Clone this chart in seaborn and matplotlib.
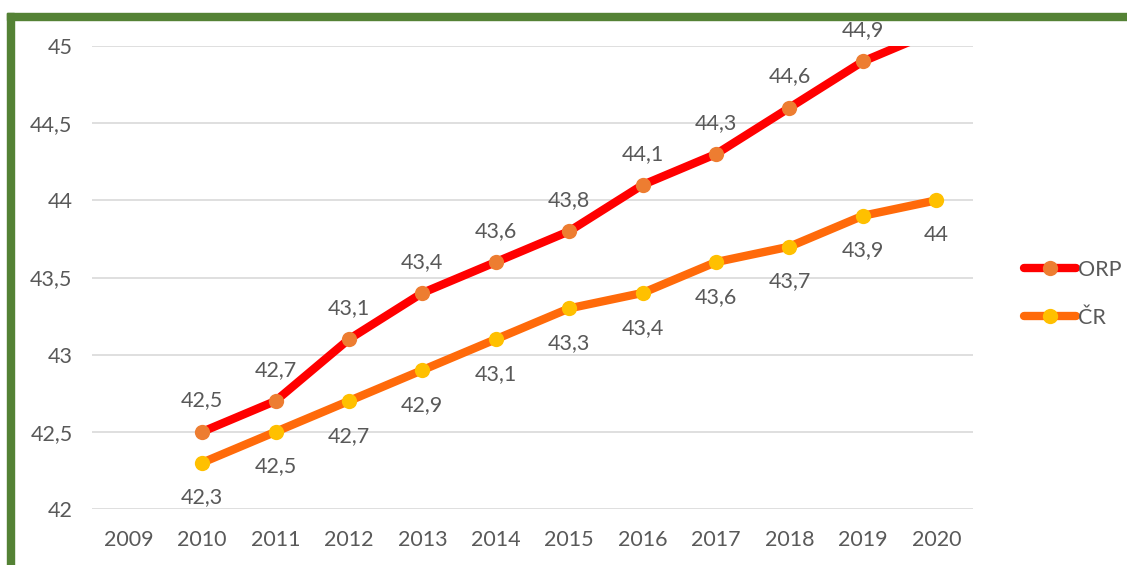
import matplotlib
matplotlib.use("Agg")
import matplotlib.pyplot as plt
import seaborn as sns
import pandas as pd
import numpy as np
from matplotlib.lines import Line2D
from matplotlib.patches import Rectangle

years = [2009, 2010, 2011, 2012, 2013, 2014, 2015, 2016, 2017, 2018, 2019, 2020]
orp = [np.nan, 42.5, 42.7, 43.1, 43.4, 43.6, 43.8, 44.1, 44.3, 44.6, 44.9, 45.1]
cr = [np.nan, 42.3, 42.5, 42.7, 42.9, 43.1, 43.3, 43.4, 43.6, 43.7, 43.9, 44.0]
series_names = ["ORP", "ČR"]
y_ticks = [42, 42.5, 43, 43.5, 44, 44.5, 45]

sns.set_theme(style="white")
plt.rcParams['font.family'] = ['Lato', 'DejaVu Sans']

txt = "#595959"
fs = 15.5
fig = plt.figure(figsize=(11.27, 5.65), dpi=100)
ax = fig.add_axes([92/1127, 1-509/565, (973-92)/1127, (509-46)/565])

df = pd.DataFrame({"year": years * 2,
                   "value": orp + cr,
                   "series": [series_names[0]] * len(years) + [series_names[1]] * len(years)})

line_cols = {"ORP": "#FF0000", "ČR": "#FF6A0A"}
mark_cols = {"ORP": "#ED7D31", "ČR": "#FFC000"}

for name in series_names:
    d = df[df.series == name].dropna()
    sns.lineplot(data=d, x="year", y="value", ax=ax, color=line_cols[name], lw=6,
                 marker="o", markersize=11, markerfacecolor=mark_cols[name],
                 markeredgewidth=0, solid_capstyle="round", legend=False, zorder=3)

def fmt(v):
    s = f"{v:.1f}".replace(".", ",")
    if s.endswith(",0"):
        s = s[:-2]
    return s

for x, v in zip(years, orp):
    if not np.isnan(v) and v <= 45:
        ax.annotate(fmt(v), (x, v), xytext=(0, 22.5), textcoords="offset points",
                    ha="center", va="center", fontsize=fs, color=txt, annotation_clip=False)
for x, v in zip(years, cr):
    if not np.isnan(v):
        ax.annotate(fmt(v), (x, v), xytext=(0, -25), textcoords="offset points",
                    ha="center", va="center", fontsize=fs, color=txt, annotation_clip=False)

ax.set_xlim(2008.5, 2020.5)
ax.set_ylim(42, 45)
ax.set_xticks(years)
ax.set_xticklabels([str(y) for y in years])
ax.set_yticks(y_ticks)
ax.set_yticklabels([fmt(t) if t != int(t) else str(int(t)) for t in y_ticks])
ax.tick_params(axis="both", length=0, labelsize=fs, labelcolor=txt)
ax.tick_params(axis="x", pad=15)
ax.tick_params(axis="y", pad=14)
ax.grid(axis="y", color="#D9D9D9", lw=1.2)
ax.set_axisbelow(True)
for s in ax.spines.values():
    s.set_visible(False)
ax.set_xlabel("")
ax.set_ylabel("")

handles = [Line2D([0], [0], color=line_cols[n], lw=6, marker="o", markersize=11,
                  markerfacecolor=mark_cols[n], markeredgewidth=0, solid_capstyle="round")
           for n in series_names]
fig.legend(handles, series_names, loc="center left", bbox_to_anchor=(1005/1127, 1-294/565),
           frameon=False, fontsize=fs, labelcolor=txt, handlelength=2.4, handletextpad=0.1,
           labelspacing=1.3)

green = "#548235"
fig.patches.append(Rectangle((7/1127, 0), 7/1127, 1-13/565, transform=fig.transFigure,
                             color=green, zorder=10))
fig.patches.append(Rectangle((7/1127, 1-20/565), 1, 7/565, transform=fig.transFigure,
                             color=green, zorder=10))

fig.savefig("out.png", dpi=100, facecolor="white")
